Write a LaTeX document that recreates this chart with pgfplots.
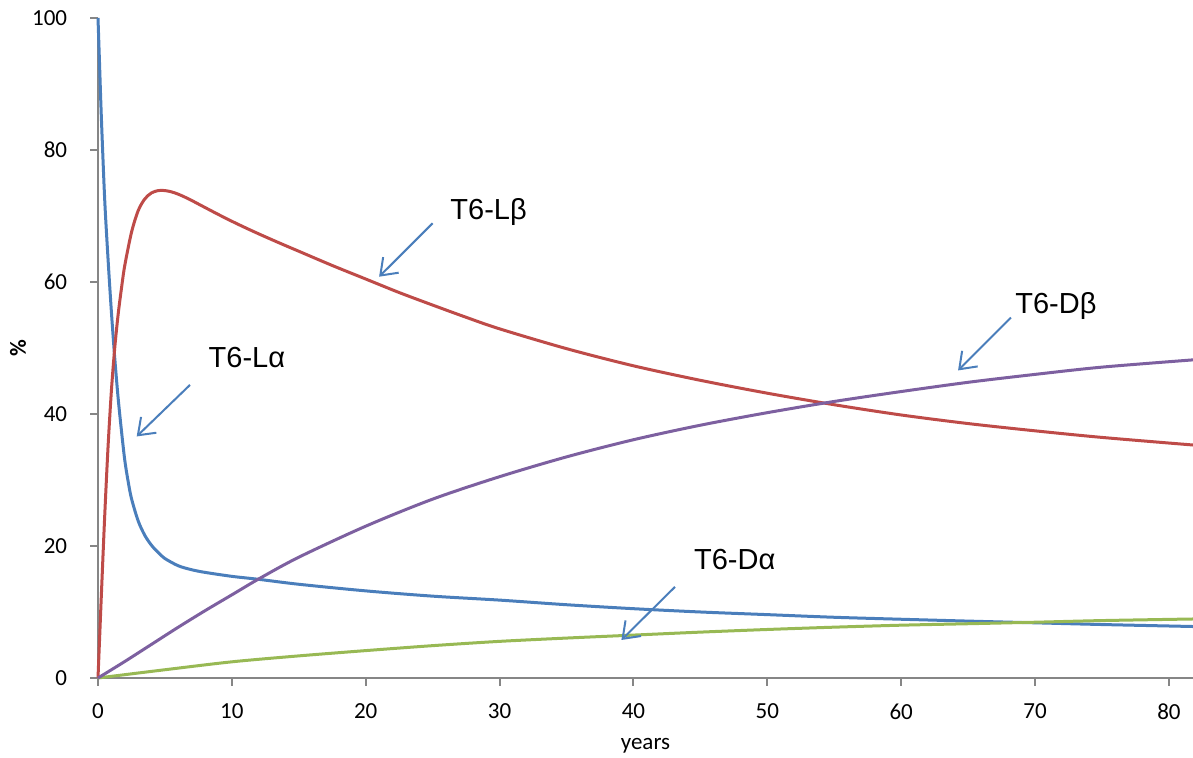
\documentclass[border=0pt]{standalone}
\usepackage{pgfplots}
\pgfplotsset{compat=1.18}
\usepackage{fontspec}
\setmainfont{Carlito}
\newfontfamily\arial{Liberation Sans}
\usetikzlibrary{arrows.meta}
\definecolor{cblue}{HTML}{4A7EBB}
\definecolor{cred}{HTML}{BE4B48}
\definecolor{cpurple}{HTML}{7D60A0}
\definecolor{cgreen}{HTML}{98B954}
\definecolor{axisgray}{HTML}{868686}
\begin{document}
\begin{tikzpicture}
\begin{axis}[
  at={(49pt,40pt)}, anchor=south west,
  scale only axis, width=547.5pt, height=330pt,
  xmin=0, xmax=81.8, ymin=0, ymax=100,
  axis x line*=bottom, axis y line*=left,
  axis line style={color=axisgray, line width=1pt},
  xtick={0,10,...,80}, ytick={0,20,...,100},
  tick align=outside, major tick length=4pt,
  every tick/.style={color=axisgray, line width=1pt},
  ticklabel style={font=\fontsize{11.5}{13}\selectfont},
  /pgf/number format/assume math mode=true,
  xticklabel style={anchor=north, inner sep=0pt, yshift=-8.8pt},
  yticklabel style={anchor=east, inner sep=0pt, xshift=-11.25pt},
  xlabel={years},
  ylabel={\textbf{\%}},
  xlabel style={at={(rel axis cs:0.5,0)}, anchor=center, yshift=-34pt, font=\fontsize{11.5}{13}\selectfont},
  ylabel style={at={(rel axis cs:0,0.5)}, anchor=center, rotate=0, yshift=40pt, font=\fontsize{11.5}{13}\selectfont},
  clip=false,
  every axis plot/.append style={line width=1.5pt, smooth, no markers},
]
% T6-L alpha
\addplot[cblue] coordinates {(0,100)(0.1,94)(0.25,85)(0.5,72.5)(0.75,63.5)(1,55.5)(1.25,48.5)(1.5,42.5)(1.75,37.5)(2,33)(2.25,29.8)(2.5,27.2)(3,23.8)(3.5,21.6)(4,20.1)(4.5,19)(5,18.1)(6,17)(7,16.4)(8,16.0)(10,15.4)(12,14.95)(15,14.2)(20,13.2)(25,12.4)(30,11.8)(35,11.1)(40,10.5)(45,10.0)(50,9.6)(55,9.2)(60,8.9)(65,8.62)(70,8.36)(75,8.1)(81.8,7.8)};
% T6-L beta
\addplot[cred] coordinates {(0,0)(0.1,5)(0.25,12.5)(0.5,24.5)(0.75,35)(1,43.5)(1.25,50)(1.5,55)(1.75,59)(2,62.5)(2.5,67.5)(3,70.8)(3.5,72.6)(4,73.5)(4.5,73.85)(5,73.85)(5.5,73.65)(6,73.3)(6.5,72.85)(7,72.35)(8,71.28)(9,70.22)(10,69.2)(11,68.23)(12,67.3)(13,66.4)(14,65.52)(15,64.66)(17.5,62.5)(20,60.45)(22.5,58.4)(25,56.5)(27.5,54.65)(30,52.9)(35,49.9)(40,47.3)(45,45.1)(50,43.15)(55,41.4)(60,39.85)(65,38.55)(70,37.45)(75,36.45)(81.8,35.3)};
% T6-D alpha
\addplot[cgreen] coordinates {(0,0)(5,1.25)(10,2.45)(15,3.35)(20,4.15)(25,4.9)(30,5.55)(35,6.05)(40,6.5)(45,6.95)(50,7.35)(55,7.7)(60,8.0)(65,8.22)(70,8.45)(75,8.7)(81.8,8.94)};
% T6-D beta
\addplot[cpurple] coordinates {(0,0)(2,2.5)(4,5.1)(6,7.7)(8,10.2)(10,12.6)(12,15.0)(15,18.3)(20,23.0)(25,27.1)(30,30.5)(35,33.5)(40,36.1)(45,38.3)(50,40.2)(55,41.9)(60,43.4)(65,44.8)(70,46.0)(75,47.1)(81.8,48.2)};

\begin{scope}[every node/.style={anchor=base west, inner sep=0pt, font=\arial\fontsize{14.5}{17}\selectfont}]
\node at (axis cs:8.24,47.1) {T6-Lα};
\node at (axis cs:26.3,69.5) {T6-Lβ};
\node at (axis cs:68.5,55.25) {T6-Dβ};
\node at (axis cs:44.5,16.5) {T6-Dα};
\end{scope}
\begin{scope}[cblue, line width=1pt, -{Straight Barb[length=7.5pt,width=11pt]}]
\draw (axis cs:6.87,44.4) -- (axis cs:2.89,36.6);
\draw (axis cs:25.0,68.9) -- (axis cs:21.0,60.8);
\draw (axis cs:68.2,54.6) -- (axis cs:64.25,46.6);
\draw (axis cs:43.1,13.8) -- (axis cs:39.1,5.76);
\end{scope}
\end{axis}
\pgfresetboundingbox
\path[use as bounding box] (0,0) rectangle (596.5pt,379pt);
\end{tikzpicture}
\end{document}
